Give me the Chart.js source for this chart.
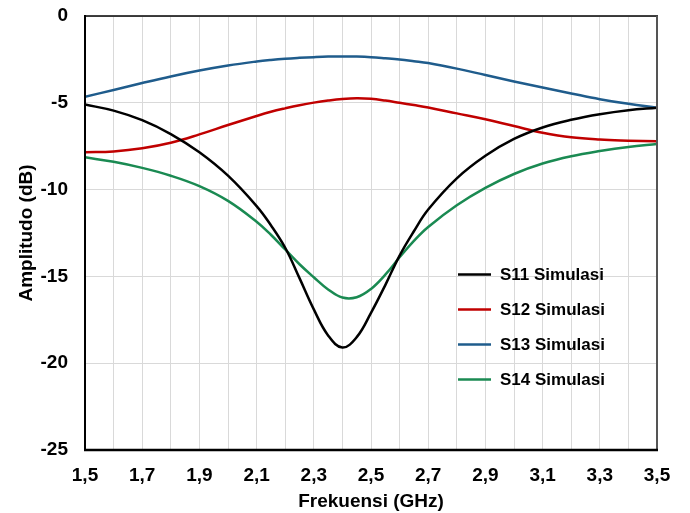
<!DOCTYPE html>
<html><head><meta charset="utf-8">
<script src="https://cdn.jsdelivr.net/npm/chart.js@4.4.1/dist/chart.umd.min.js"></script>
<style>html,body{margin:0;padding:0;background:#fff}#wrap{width:690px;height:513px}</style>
</head><body><div id="wrap"><canvas id="c" width="690" height="513"></canvas></div>
<script>
// ---- data ----
const freq = [1.5,1.6,1.7,1.8,1.9,2.0,2.1,2.15,2.2,2.25,2.3,2.35,2.4,2.45,2.5,2.55,2.6,2.65,2.7,2.8,2.9,3.0,3.1,3.2,3.3,3.4,3.5];
const s11 = [-5.10,-5.45,-6.0,-6.8,-7.85,-9.2,-10.95,-12.05,-13.35,-15.1,-16.9,-18.4,-19.1,-18.5,-17.1,-15.5,-13.8,-12.4,-11.15,-9.35,-8.05,-7.08,-6.42,-5.98,-5.66,-5.43,-5.28];
const s12 = [-7.85,-7.80,-7.62,-7.30,-6.82,-6.28,-5.76,-5.52,-5.32,-5.14,-4.99,-4.87,-4.78,-4.74,-4.77,-4.87,-5.0,-5.13,-5.27,-5.61,-5.95,-6.34,-6.72,-6.99,-7.12,-7.18,-7.22];
const s13 = [-4.65,-4.26,-3.86,-3.48,-3.14,-2.85,-2.62,-2.53,-2.46,-2.41,-2.37,-2.34,-2.33,-2.34,-2.37,-2.43,-2.50,-2.60,-2.71,-3.03,-3.40,-3.77,-4.12,-4.46,-4.79,-5.06,-5.28];
const s14 = [-8.14,-8.4,-8.75,-9.2,-9.8,-10.65,-11.85,-12.6,-13.45,-14.3,-15.05,-15.75,-16.22,-16.2,-15.72,-14.9,-13.9,-12.95,-12.15,-10.9,-9.9,-9.1,-8.5,-8.08,-7.78,-7.54,-7.37];
const seriesNames = ['S11 Simulasi','S12 Simulasi','S13 Simulasi','S14 Simulasi'];
const xTitle = 'Frekuensi (GHz)';
const yTitle = 'Amplitudo (dB)';

const FONT = '"Liberation Sans", Arial, sans-serif';
const colors = ['#000000','#C00000','#1F5C8C','#1A8A52'];
const all = [s11,s12,s13,s14];

const datasets = all.map((arr,i)=>({
  label: seriesNames[i],
  data: freq.map((f,j)=>({x:f,y:arr[j]})),
  borderColor: colors[i],
  backgroundColor: colors[i],
  borderWidth: 2.5,
  pointRadius: 0,
  fill: false,
  tension: 0.4
}));

const framePlugin = {
  id: 'frame',
  afterDatasetsDraw(chart){
    const {ctx, chartArea:a} = chart;
    ctx.save();
    const ln=(x1,y1,x2,y2,c,w)=>{ctx.beginPath();ctx.strokeStyle=c;ctx.lineWidth=w;ctx.moveTo(x1,y1);ctx.lineTo(x2,y2);ctx.stroke();};
    ln(a.left-1,a.top,a.right+1,a.top,'#000',1.5);
    ln(a.right,a.top,a.right,a.bottom+1,'#555',2);
    ln(a.left,a.top-1,a.left,a.bottom+1,'#000',2);
    ln(a.left-1,a.bottom,a.right+1,a.bottom,'#000',2.5);
    ctx.restore();
  }
};

const legendPlugin = {
  id: 'innerLegend',
  afterDraw(chart){
    const {ctx} = chart;
    ctx.save();
    const x0 = 458, x1 = 491, tx = 500;
    const rows = [274.5, 309.5, 344.5, 379.5];
    chart.data.datasets.forEach((ds,i)=>{
      const y = rows[i];
      ctx.beginPath();
      ctx.strokeStyle = ds.borderColor;
      ctx.lineWidth = 2.5;
      ctx.moveTo(x0,y); ctx.lineTo(x1,y); ctx.stroke();
      ctx.fillStyle = '#000';
      ctx.font = 'bold 17px ' + FONT;
      ctx.textBaseline = 'middle';
      ctx.textAlign = 'left';
      ctx.fillText(ds.label, tx, y+1);
    });
    ctx.restore();
  }
};

new Chart(document.getElementById('c'), {
  type: 'line',
  data: { datasets },
  options: {
    responsive: false,
    animation: false,
    devicePixelRatio: 1,
    layout: { padding: { left: 0, right: 33, top: 16, bottom: 0 } },
    plugins: { legend: { display: false }, tooltip: { enabled: false } },
    scales: {
      x: {
        type: 'linear',
        min: 1.5, max: 3.5,
        afterFit: s => { s.height = 63; s.paddingLeft = 0; s.paddingRight = 0; },
        border: { display: false },
        grid: { color: '#d9d9d9', lineWidth: 1, drawTicks: false },
        ticks: {
          stepSize: 0.1, autoSkip: false, maxRotation: 0, minRotation: 0,
          padding: 14.6, color: '#000',
          font: { family: FONT, size: 19, weight: 'bold' },
          callback: v => (Math.round(v*10) % 2 === 1) ? Number(v).toFixed(1).replace('.', ',') : ''
        },
        title: { display: true, text: xTitle, color: '#000', padding: { top: 0, bottom: 0 },
          font: { family: FONT, size: 19, weight: 'bold' } }
      },
      y: {
        min: -25, max: 0,
        afterFit: s => { s.width = 85; s.paddingTop = 0; s.paddingBottom = 0; },
        border: { display: false },
        grid: { color: '#d9d9d9', lineWidth: 1, drawTicks: false },
        ticks: {
          stepSize: 5, padding: 17, color: '#000',
          font: { family: FONT, size: 19, weight: 'bold' },
          callback: v => String(v)
        },
        title: { display: true, text: yTitle, color: '#000', padding: { top: 15, bottom: 0 },
          font: { family: FONT, size: 19, weight: 'bold' } }
      }
    }
  },
  plugins: [framePlugin, legendPlugin]
});
</script></body></html>
